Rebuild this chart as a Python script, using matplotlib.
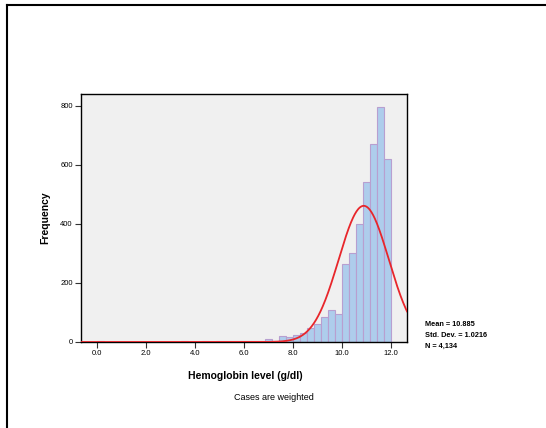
import numpy as np
import matplotlib
matplotlib.use("Agg")
import matplotlib.pyplot as plt
from matplotlib.lines import Line2D

plt.rcParams['font.family'] = ['Liberation Sans', 'DejaVu Sans']

# Data
bin_start = 0.0
bin_end = 12.0
counts = [2, 0, 1, 0, 1, 1, 0, 1, 0, 1, 1, 0, 2, 1, 1, 2, 1, 2, 3, 3, 5,
          5, 5, 5, 9, 4, 20, 16, 23, 32, 46, 61, 84, 109, 94,
          264, 303, 399, 541, 671, 795, 620]
mean = 10.885
std = 1.0216
n_total = 4134
xticks = [0, 2, 4, 6, 8, 10, 12]
xtick_labels = ["0.0", "2.0", "4.0", "6.0", "8.0", "10.0", "12.0"]
yticks = [0, 200, 400, 600, 800]
stats_lines = ["Mean = 10.885", "Std. Dev. = 1.0216", "N = 4,134"]

W, H = 546, 428
fig = plt.figure(figsize=(W / 100, H / 100), dpi=100)
fig.patch.set_facecolor('white')

# outer frame (left and top)
fig.add_artist(Line2D([7 / W, 7 / W], [0, 1 - 5 / H], transform=fig.transFigure, color='black', lw=1.5))
fig.add_artist(Line2D([7 / W, 1], [1 - 5 / H, 1 - 5 / H], transform=fig.transFigure, color='black', lw=1.5))

ax = fig.add_axes([81 / W, 86 / H, 326 / W, 248 / H])
ax.set_facecolor('#f0f0f0')

edges = np.linspace(bin_start, bin_end, len(counts) + 1)
width = edges[1] - edges[0]
ax.bar(edges[:-1], counts, width=width, align='edge', color='#aecdec',
       edgecolor='#b89fd0', linewidth=0.8, zorder=2)

xlim = (-0.65, 12.65)
xs = np.linspace(xlim[0], xlim[1], 600)
pdf = np.exp(-0.5 * ((xs - mean) / std) ** 2) / (std * np.sqrt(2 * np.pi))
ax.plot(xs, pdf * n_total * width, color='#e8262b', lw=1.3, zorder=3)

ax.set_xlim(*xlim)
ax.set_ylim(0, 840)
ax.set_xticks(xticks)
ax.set_xticklabels(xtick_labels)
ax.set_yticks(yticks)
ax.tick_params(axis='both', direction='out', length=4, width=0.8, labelsize=5.5, pad=2, color='#333333')
for s in ax.spines.values():
    s.set_color('black')
    s.set_linewidth(1.0)

fig.text(45 / W, 1 - 218 / H, "Frequency", rotation=90, ha='center', va='center',
         fontsize=7.5, fontweight='bold')
fig.text(245 / W, 1 - 376 / H, "Hemoglobin level (g/dl)", ha='center', va='center',
         fontsize=7.5, fontweight='bold')
fig.text(274 / W, 1 - 398 / H, "Cases are weighted", ha='center', va='center', fontsize=6.5)

for i, line in enumerate(stats_lines):
    fig.text(425 / W, 1 - (325 + i * 10.5) / H, line, ha='left', va='center',
             fontsize=5.3, fontweight='bold')

fig.savefig("out.png", dpi=100)
